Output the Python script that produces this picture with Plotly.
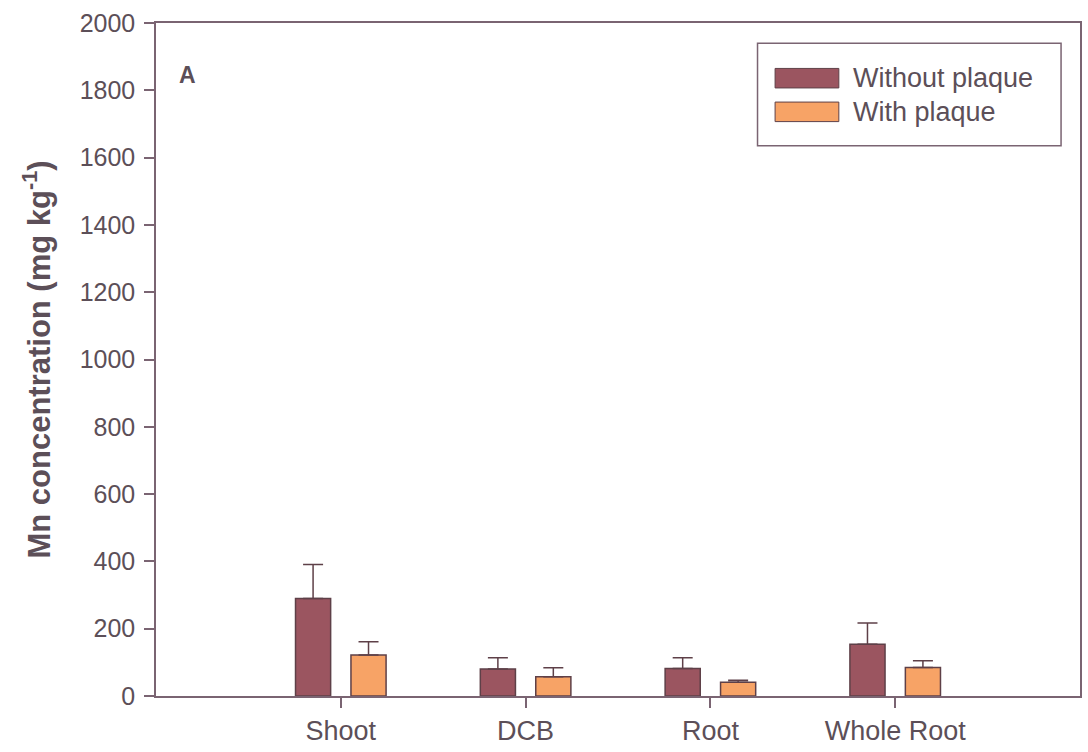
import plotly.graph_objects as go

categories = ["Shoot", "DCB", "Root", "Whole Root"]
without_plaque = [290, 80, 82, 154]
without_plaque_err = [101, 34, 32, 63]
with_plaque = [122, 57, 41, 85]
with_plaque_err = [39, 27, 6, 20]
y_ticks = [0, 200, 400, 600, 800, 1000, 1200, 1400, 1600, 1800, 2000]

C_WITHOUT = "#9b5560"
C_WITH = "#f7a366"
EDGE = "#5e4048"
AXIS = "#7a6472"
TEXT = "#5c4f58"
FONT = "Liberation Sans, Arial, sans-serif"

x_idx = list(range(len(categories)))

fig = go.Figure()
fig.add_trace(go.Bar(
    x=x_idx, y=without_plaque, name="Without plaque",
    width=0.19, offset=-0.245,
    marker=dict(color=C_WITHOUT, line=dict(color=EDGE, width=1.5)),
    error_y=dict(type="data", array=without_plaque_err, symmetric=False,
                 arrayminus=[0] * 4, color=EDGE, thickness=1.5, width=10),
))
fig.add_trace(go.Bar(
    x=x_idx, y=with_plaque, name="With plaque",
    width=0.19, offset=0.055,
    marker=dict(color=C_WITH, line=dict(color=EDGE, width=1.5)),
    error_y=dict(type="data", array=with_plaque_err, symmetric=False,
                 arrayminus=[0] * 4, color=EDGE, thickness=1.5, width=10),
))

# custom legend box
lx0, lx1, ly0, ly1 = 0.651, 0.9795, 0.8175, 0.970
fig.add_shape(type="rect", xref="paper", yref="paper", x0=lx0, x1=lx1, y0=ly0, y1=ly1,
              line=dict(color=AXIS, width=1.5), fillcolor="white")
legend_items = [("Without plaque", C_WITHOUT, 0.918), ("With plaque", C_WITH, 0.868)]
for label, col, yc in legend_items:
    fig.add_shape(type="rect", xref="paper", yref="paper",
                  x0=0.670, x1=0.739, y0=yc - 0.0145, y1=yc + 0.0145,
                  line=dict(color=EDGE, width=1), fillcolor=col)
    fig.add_annotation(xref="paper", yref="paper", x=0.752, y=yc, text=label,
                       showarrow=False, xanchor="left", yanchor="middle",
                       font=dict(family=FONT, size=27, color=TEXT))

fig.add_annotation(xref="paper", yref="paper", x=0.034, y=0.923, text="<b>A</b>",
                   showarrow=False, xanchor="center", yanchor="middle",
                   font=dict(family=FONT, size=23, color=TEXT))

fig.update_layout(
    width=1088, height=752,
    margin=dict(l=156, r=6, t=23, b=55),
    plot_bgcolor="white", paper_bgcolor="white",
    showlegend=False,
    barmode="group",
    font=dict(family=FONT, color=TEXT),
)
fig.update_xaxes(
    range=[-1, 4], tickmode="array", tickvals=x_idx, ticktext=categories,
    showline=True, linecolor=AXIS, linewidth=1.5, mirror=True,
    ticks="outside", ticklen=10, tickcolor=AXIS, tickwidth=1.5,
    showgrid=False, zeroline=False, tickfont=dict(size=27, color=TEXT),
)
fig.update_yaxes(
    range=[0, 2000], tickmode="array", tickvals=y_ticks,
    showline=True, linecolor=AXIS, linewidth=1.5, mirror=True,
    ticks="outside", ticklen=10, tickcolor=AXIS, tickwidth=1.5,
    ticklabelstandoff=4,
    showgrid=False, zeroline=False, tickfont=dict(size=25, color=TEXT),
    title=dict(text="<b>Mn concentration (mg kg<sup>-1</sup>)</b>",
               font=dict(size=31, color=TEXT), standoff=20),
)

fig.write_html("out.html")
